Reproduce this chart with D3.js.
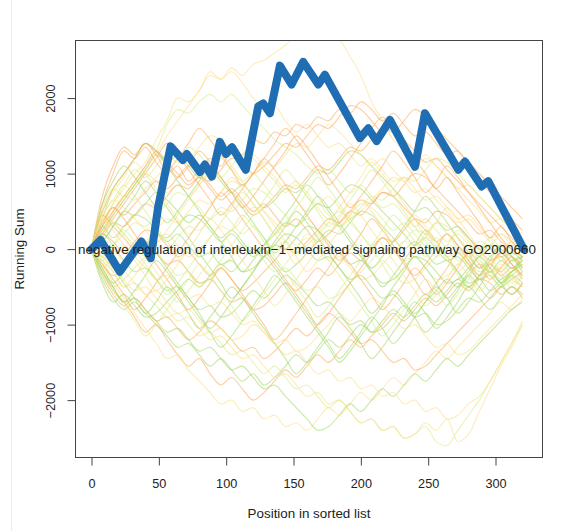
<!DOCTYPE html>
<html>
<head>
<meta charset="utf-8">
<script src="https://cdn.jsdelivr.net/npm/d3@7"></script>
<style>
  body { margin: 0; background: #fff; }
  text { font-family: "Liberation Sans", Arial, Helvetica, sans-serif; fill: #222; }
</style>
</head>
<body>
<script>
// observed running sum of the gene set
const esPositions = [0, 6.7, 21, 37, 44, 49.5, 58.7, 67.8, 70.8, 80.5, 84.2, 89.4, 95.3, 99.8, 104.3, 114.6,
  123.8, 127.5, 132.5, 139.9, 148.6, 157.2, 168.4, 173.3, 199.3, 205.5, 211.7, 221.6, 240.2, 247.6,
  272.4, 277.3, 289.7, 294.6, 321];
const esValues = [0, 120, -300, 100, -120, 560, 1360, 1180, 1260, 1020, 1120, 960, 1420, 1260, 1350, 1050,
  1890, 1930, 1800, 2430, 2180, 2480, 2180, 2310, 1470, 1600, 1430, 1710, 1090, 1800,
  1050, 1160, 830, 900, 0];

// permutation running sums, sampled every 8 positions
const permPositions = [0, 8, 16, 24, 32, 40, 48, 56, 64, 72, 80, 88, 96, 104, 112, 120, 128, 136, 144, 152,
  160, 168, 176, 184, 192, 200, 208, 216, 224, 232, 240, 248, 256, 264, 272, 280, 288, 296, 304, 312, 320];
const permRuns = [
  [0, 300, 600, 800, 1000, 1150, 1450, 1700, 2000, 1950, 2100, 2350, 2250, 2400, 2300, 2450, 2500, 2600, 2700, 2850, 2950, 2850, 2900, 2780, 2550, 2300, 1950, 1700, 1450, 1300, 1150, 1250, 1100, 950, 800, 850, 700, 550, 400, 300, 200],
  [0, 250, 500, 700, 900, 1100, 1300, 1650, 1850, 1800, 1950, 2050, 1950, 2050, 1900, 1750, 1600, 1450, 1350, 1250, 1100, 1000, 1050, 900, 750, 850, 700, 550, 600, 450, 300, 400, 250, 100, 200, 50, -100, 0, -150, -50, -100],
  [0, 200, 450, 650, 850, 1050, 1250, 1500, 1700, 1900, 2100, 2300, 2250, 2350, 2200, 2000, 1850, 1900, 1700, 1550, 1650, 1500, 1350, 1400, 1250, 1100, 1200, 1050, 900, 950, 800, 650, 700, 550, 400, 450, 300, 150, 200, 50, 0],
  [0, 600, 1000, 1300, 1200, 1350, 1150, 1000, 1100, 900, 1050, 1200, 1100, 1300, 1250, 1450, 1400, 1550, 1500, 1650, 1600, 1750, 1700, 1850, 1800, 1950, 1850, 1700, 1800, 1650, 1500, 1550, 1400, 1250, 1300, 1100, 900, 750, 600, 400, 250],
  [0, 700, 1100, 1350, 1250, 1400, 1300, 1150, 1000, 850, 950, 800, 650, 750, 600, 450, 550, 700, 850, 800, 950, 1100, 1050, 1200, 1350, 1300, 1450, 1600, 1550, 1700, 1850, 1750, 1600, 1450, 1300, 1150, 1000, 850, 700, 550, 400],
  [0, 400, 800, 1000, 1200, 1400, 1300, 1150, 1250, 1100, 950, 1050, 900, 750, 850, 700, 550, 650, 800, 750, 900, 1050, 1000, 1150, 1300, 1250, 1100, 950, 800, 650, 500, 550, 400, 250, 300, 150, 0, 50, -100, -50, -150],
  [0, 350, 600, 850, 1050, 950, 1100, 1250, 1150, 1350, 1250, 1100, 1200, 1050, 900, 1000, 850, 700, 800, 650, 500, 600, 450, 300, 400, 550, 700, 650, 800, 950, 900, 1050, 1200, 1150, 1000, 850, 700, 550, 400, 250, 100],
  [0, 200, 500, 700, 650, 800, 950, 1100, 1250, 1200, 1350, 1500, 1450, 1300, 1150, 1250, 1100, 950, 800, 900, 750, 600, 700, 550, 400, 500, 650, 800, 950, 900, 1050, 1200, 1100, 950, 800, 650, 500, 350, 400, 250, 100],
  [0, 100, 300, 500, 450, 600, 750, 650, 500, 350, 450, 300, 150, 250, 100, -50, 50, 200, 350, 300, 450, 600, 550, 700, 850, 800, 650, 500, 350, 200, 50, 150, 0, -150, -100, -250, -400, -350, -500, -400, -300],
  [0, 300, 550, 450, 600, 750, 900, 800, 950, 1100, 1000, 850, 700, 800, 650, 500, 600, 450, 300, 400, 250, 100, 200, 350, 500, 450, 600, 750, 700, 850, 1000, 950, 800, 650, 500, 350, 200, 250, 100, 0, -100],
  [0, -100, 50, 200, 350, 300, 450, 600, 750, 700, 850, 1000, 950, 1100, 1250, 1200, 1050, 900, 750, 850, 700, 550, 400, 500, 350, 200, 50, 150, 0, -150, -100, -250, -400, -350, -200, -50, 100, 50, 200, 100, 0],
  [0, 150, 0, -150, -50, 100, 250, 400, 350, 500, 650, 600, 750, 900, 850, 1000, 1150, 1100, 1250, 1400, 1350, 1500, 1650, 1550, 1400, 1250, 1100, 1200, 1050, 900, 750, 800, 650, 500, 350, 400, 250, 100, 0, -100, -200],
  [0, -200, -350, -250, -100, 50, 200, 150, 300, 450, 400, 250, 100, 200, 50, -100, 0, -150, -300, -200, -50, 100, 250, 200, 350, 500, 450, 300, 150, 0, 100, -50, -200, -150, -300, -450, -400, -550, -450, -300, -200],
  [0, 200, 100, -50, 100, 250, 200, 50, -100, -50, -200, -350, -250, -400, -550, -450, -300, -150, 0, -50, 100, 250, 400, 350, 500, 650, 600, 750, 700, 550, 400, 250, 100, 200, 50, -100, -250, -200, -350, -250, -400],
  [0, -300, -500, -400, -250, -100, 50, 0, 150, 300, 250, 400, 550, 500, 650, 800, 750, 600, 450, 300, 400, 250, 100, -50, 50, -100, -250, -150, -300, -450, -400, -250, -100, 50, 0, -150, -300, -250, -400, -300, -200],
  [0, 400, 650, 550, 400, 250, 100, 200, 50, -100, 0, 150, 300, 250, 400, 550, 500, 350, 200, 50, 150, 0, -150, -100, -250, -400, -350, -200, -50, 100, 50, 200, 350, 300, 150, 0, -150, -300, -250, -400, -500],
  [0, -400, -650, -800, -700, -850, -1000, -1150, -1300, -1250, -1400, -1550, -1450, -1600, -1750, -1650, -1800, -1700, -1550, -1400, -1500, -1350, -1200, -1300, -1150, -1000, -1100, -950, -800, -900, -750, -600, -700, -550, -400, -500, -350, -200, -300, -150, -100],
  [0, -300, -550, -700, -900, -1100, -1000, -1200, -1400, -1550, -1450, -1650, -1800, -1700, -1850, -2000, -1900, -1750, -1600, -1700, -1550, -1400, -1500, -1350, -1200, -1300, -1150, -1000, -850, -950, -800, -650, -750, -600, -450, -550, -400, -450, -600, -500, -650],
  [0, -200, -450, -650, -850, -1050, -1250, -1450, -1400, -1600, -1750, -1900, -2050, -2000, -2150, -2100, -2250, -2200, -2350, -2300, -2400, -2250, -2100, -2200, -2050, -1900, -2000, -1850, -1700, -1800, -1650, -1500, -1350, -1450, -1300, -1150, -1000, -850, -700, -800, -650],
  [0, -150, -300, -500, -450, -600, -750, -900, -850, -1000, -1150, -1100, -1250, -1400, -1350, -1500, -1650, -1550, -1700, -1850, -1800, -1950, -2100, -2000, -2150, -2300, -2250, -2400, -2350, -2500, -2450, -2350, -2550, -2600, -2400, -2200, -2000, -1750, -1500, -1250, -1000],
  [0, -250, -500, -700, -650, -800, -950, -1100, -1050, -1200, -1350, -1300, -1450, -1600, -1550, -1700, -1850, -1800, -1950, -2100, -2250, -2400, -2350, -2200, -2050, -2150, -2000, -1850, -1950, -1800, -1650, -1750, -1600, -1450, -1550, -1400, -1250, -1100, -950, -800, -700],
  [0, -100, -250, -400, -550, -500, -650, -800, -950, -900, -1050, -1200, -1150, -1300, -1450, -1400, -1550, -1700, -1650, -1800, -1950, -1900, -2050, -2000, -2150, -2300, -2250, -2400, -2350, -2500, -2450, -2300, -2400, -2250, -2550, -2450, -2150, -1850, -1550, -1300, -1000],
  [0, -350, -600, -750, -650, -800, -950, -900, -1050, -1200, -1100, -950, -1050, -1200, -1350, -1300, -1450, -1350, -1200, -1050, -1150, -1000, -850, -950, -1100, -1250, -1200, -1350, -1500, -1450, -1600, -1550, -1400, -1250, -1100, -950, -800, -650, -500, -600, -450],
  [0, 200, 50, -150, -300, -250, -400, -550, -500, -650, -800, -750, -900, -850, -700, -550, -650, -500, -350, -450, -600, -750, -700, -850, -1000, -950, -1100, -1050, -900, -750, -850, -700, -550, -400, -500, -350, -200, -300, -150, -250, -100],
  [0, 500, 350, 200, 50, -100, -50, -200, -350, -300, -450, -400, -250, -100, 50, 0, -150, -300, -250, -400, -550, -500, -650, -600, -450, -300, -150, 0, -50, 100, 250, 200, 50, -100, -50, -200, -350, -300, -450, -350, -250],
  [0, -250, -100, 50, -100, -250, -400, -350, -500, -650, -600, -750, -700, -850, -1000, -950, -1100, -1250, -1200, -1350, -1300, -1150, -1000, -850, -950, -800, -650, -750, -900, -1050, -1000, -1150, -1300, -1250, -1400, -1350, -1200, -1050, -900, -750, -600],
  [0, 450, 300, 150, 0, 100, -50, -200, -150, -300, -450, -400, -550, -700, -650, -800, -750, -600, -450, -550, -400, -250, -350, -200, -50, -150, 0, 150, 100, 250, 400, 350, 500, 450, 300, 150, 0, -150, -100, -250, -150],
  [0, -450, -700, -600, -750, -900, -850, -700, -550, -400, -500, -350, -200, -300, -150, 0, -100, 50, 200, 150, 0, -150, -100, -250, -400, -350, -500, -650, -600, -750, -900, -850, -1000, -950, -800, -650, -700, -550, -400, -300, -200],
  [0, 550, 800, 700, 850, 1000, 900, 750, 850, 700, 550, 400, 500, 350, 200, 300, 150, 0, 100, -50, 50, 200, 350, 300, 450, 600, 550, 400, 250, 350, 200, 50, 150, 0, -150, -100, -250, -150, -50, 50, 0],
  [0, -150, -350, -300, -450, -600, -550, -700, -850, -800, -950, -1100, -1050, -1200, -1150, -1000, -1100, -1250, -1400, -1350, -1500, -1650, -1600, -1750, -1700, -1850, -1800, -1950, -1900, -2050, -2000, -2150, -2100, -2250, -2200, -2050, -1950, -1750, -1500, -1250, -950],
  [0, 150, 350, 300, 450, 600, 550, 700, 850, 800, 950, 900, 1050, 1200, 1150, 1000, 1100, 1250, 1400, 1350, 1500, 1650, 1600, 1750, 1900, 1850, 1700, 1550, 1600, 1450, 1300, 1150, 1200, 1050, 900, 750, 600, 450, 300, 150, 0],
  [0, 300, 150, 300, 450, 400, 250, 100, 200, 50, -100, -50, -200, -150, -300, -250, -100, 50, 0, 150, 300, 250, 100, -50, -200, -150, -300, -450, -400, -250, -100, -150, -300, -450, -400, -250, -100, 50, 0, -150, -100],
  [0, 250, 450, 650, 850, 1050, 1250, 1100, 900, 700, 500, 300, 100, -100, -300, -150, 50, 250, 450, 650, 850, 700, 500, 300, 100, -100, -300, -500, -350, -150, 50, 250, 100, -100, -300, -500, -350, -150, 50, -100, -300],
  [0, -200, -400, -600, -800, -650, -450, -250, -50, 150, 350, 550, 750, 600, 400, 200, 0, -200, -400, -600, -800, -1000, -850, -650, -450, -250, -50, 150, 0, -200, -400, -600, -450, -250, -50, -200, -400, -250, -50, -200, -350],
  [0, 450, 650, 850, 700, 500, 300, 100, -100, -300, -500, -350, -150, 50, 250, 450, 650, 850, 1050, 900, 700, 500, 300, 450, 650, 850, 1050, 900, 700, 500, 300, 100, -100, 50, 250, 100, -100, -300, -150, -350, -500],
  [0, 100, 300, 500, 700, 900, 750, 550, 350, 150, -50, -250, -450, -650, -500, -300, -100, 100, 300, 500, 350, 150, -50, -250, -450, -650, -850, -700, -500, -300, -100, -250, -450, -650, -500, -300, -100, -250, -450, -300, -150],
  [0, -100, -300, -500, -350, -150, 50, 250, 450, 650, 850, 1050, 1250, 1100, 900, 700, 500, 300, 100, -100, -300, -150, 50, 250, 450, 650, 500, 300, 100, 250, 450, 300, 100, -100, -300, -150, 50, -100, -300, -450, -300],
  [0, 350, 550, 400, 200, 0, -200, -400, -600, -800, -650, -450, -250, -400, -600, -800, -1000, -1200, -1050, -850, -650, -450, -250, -50, -200, -400, -600, -800, -650, -450, -250, -400, -600, -450, -250, -50, -200, -400, -250, -100, -250],
  [0, 600, 900, 1100, 950, 750, 550, 350, 500, 700, 900, 1100, 950, 750, 550, 350, 150, -50, 100, 300, 500, 700, 550, 350, 150, -50, -250, -100, 100, 300, 500, 700, 550, 350, 150, -50, -250, -100, 50, -100, -250],
  [0, -350, -550, -750, -950, -1150, -1000, -800, -600, -400, -200, -350, -550, -750, -950, -800, -600, -400, -200, 0, 200, 50, -150, -350, -550, -750, -950, -1150, -1000, -800, -600, -400, -550, -750, -600, -400, -200, -350, -500, -350, -200],
  [0, 200, 400, 600, 800, 1000, 1200, 1400, 1250, 1050, 850, 650, 450, 600, 800, 1000, 1200, 1050, 850, 650, 450, 250, 50, -150, 0, 200, 400, 250, 50, -150, -350, -200, 0, 200, 50, -150, -350, -200, -50, -200, -350],
  [0, -250, -450, -300, -100, 100, -50, -250, -450, -650, -850, -1050, -900, -700, -500, -300, -100, -250, -450, -650, -850, -1050, -1250, -1450, -1300, -1100, -900, -1050, -1250, -1100, -900, -700, -500, -650, -850, -700, -500, -300, -450, -600, -450],
  [0, 500, 750, 950, 1150, 1000, 800, 600, 400, 200, 350, 550, 750, 950, 800, 600, 400, 200, 0, -200, -50, 150, 350, 550, 750, 950, 1150, 1000, 800, 600, 400, 200, 350, 550, 400, 200, 0, -200, -50, 100, -50],
  [0, -150, 50, 250, 100, -100, -300, -500, -700, -550, -350, -150, 50, 250, 450, 300, 100, -100, -300, -500, -700, -900, -750, -550, -350, -150, 50, 250, 450, 300, 100, -100, 50, -150, -350, -550, -400, -200, -350, -500, -350],
  [0, 300, 500, 700, 900, 1100, 1300, 1150, 950, 1100, 1300, 1150, 950, 750, 550, 700, 900, 1100, 1300, 1500, 1350, 1150, 950, 750, 550, 700, 900, 1100, 1300, 1150, 950, 750, 900, 1100, 950, 750, 550, 350, 150, 0, -100],
  [0, -300, -500, -700, -550, -350, -150, -300, -500, -700, -900, -1100, -1300, -1150, -950, -750, -550, -350, -500, -700, -900, -1100, -1300, -1500, -1350, -1150, -950, -750, -550, -700, -900, -1100, -950, -750, -550, -350, -500, -650, -500, -350, -450],
  [0, 150, 350, 200, 0, -200, -400, -600, -450, -250, -50, 150, 350, 550, 750, 600, 400, 200, 350, 550, 750, 950, 800, 600, 400, 200, 0, -200, -400, -250, -50, 150, 350, 200, 0, -200, -50, 150, 0, -150, -50],
  [0, 400, 250, 50, -150, -350, -550, -400, -200, 0, 200, 400, 250, 50, -150, -350, -550, -750, -600, -400, -200, 0, 200, 400, 600, 450, 250, 50, -150, -350, -550, -750, -600, -400, -200, -350, -550, -400, -200, -350, -500],
  [0, 500, 800, 1000, 1200, 1400, 1250, 1050, 1200, 1400, 1600, 1450, 1250, 1050, 850, 1000, 1200, 1400, 1600, 1450, 1250, 1050, 850, 1000, 1200, 1400, 1600, 1750, 1600, 1400, 1200, 1000, 800, 950, 750, 550, 350, 150, 300, 100, -50],
  [0, -50, -250, -450, -650, -850, -700, -500, -650, -850, -1050, -900, -700, -500, -650, -850, -1050, -1250, -1450, -1650, -1500, -1300, -1100, -900, -1050, -1250, -1450, -1300, -1100, -900, -700, -850, -1050, -900, -700, -500, -650, -800, -650, -500, -600]
];
// colour of each permutation line (index into permPalette)
const permColorIdx = [1, 2, 1, 0, 0, 3, 2, 1, 3, 0, 2, 1, 3, 0, 2, 1, 3, 0, 1, 2, 3, 1, 0, 3, 2, 1, 0, 3, 2, 1, 0, 3,
  3, 0, 2, 3, 1, 0, 3, 2, 0, 3, 1, 2, 0, 3, 2, 1, 0, 3];
const permPalette = ["#fdae61", "#fee08b", "#d9ef8b", "#a6d96a"];

const xTicks = [0, 50, 100, 150, 200, 250, 300];
const yTicks = [-2000, -1000, 0, 1000, 2000];
const setName = "negative regulation of interleukin\u22121\u2212mediated signaling pathway GO2000660";

const width = 568, height = 531;
const box = {left: 75.5, right: 542.5, top: 40.5, bottom: 457.5};

const x = d3.scaleLinear().domain([-11.9, 334.9]).range([box.left, box.right]);
const y = d3.scaleLinear().domain([-2760, 2763]).range([box.bottom, box.top]);

const svg = d3.select("body").append("svg")
  .attr("width", width)
  .attr("height", height);

// faint page edge
svg.append("line")
  .attr("x1", 11.5).attr("x2", 11.5).attr("y1", 0).attr("y2", height)
  .attr("stroke", "#ebebeb");

svg.append("clipPath").attr("id", "plot-clip")
  .append("rect")
  .attr("x", box.left).attr("y", box.top)
  .attr("width", box.right - box.left).attr("height", box.bottom - box.top);

const plot = svg.append("g").attr("clip-path", "url(#plot-clip)");

// permutation lines
const permLine = d3.line()
  .x((d, i) => x(permPositions[i]))
  .y(d => y(d))
  .curve(d3.curveCatmullRom.alpha(0.5));

plot.selectAll(".perm")
  .data(permRuns)
  .enter()
  .append("path")
    .attr("class", "perm")
    .attr("d", permLine)
    .attr("fill", "none")
    .attr("stroke", (d, i) => permPalette[permColorIdx[i]])
    .attr("stroke-opacity", 0.6)
    .attr("stroke-width", 1.1);

// observed running sum
const esLine = d3.line()
  .x((d, i) => x(esPositions[i]))
  .y(d => y(d));

plot.append("path")
  .attr("d", esLine(esValues))
  .attr("fill", "none")
  .attr("stroke", "#1f6eb4")
  .attr("stroke-width", 8)
  .attr("stroke-linejoin", "round")
  .attr("stroke-linecap", "round");

// gene set label
svg.append("text")
  .attr("x", x(160))
  .attr("y", y(0) + 4.6)
  .attr("text-anchor", "middle")
  .style("font-size", "13.4px")
  .text(setName);

// axes
const xAxis = d3.axisBottom(x).tickValues(xTicks).tickSize(8).tickPadding(13).tickFormat(d3.format("d"));
const gx = svg.append("g")
  .attr("transform", `translate(0, ${box.bottom})`)
  .call(xAxis);
gx.select(".domain").attr("d", `M${x(0)},0H${x(300)}`);

const yAxis = d3.axisLeft(y).tickValues(yTicks).tickSize(8).tickFormat(d => d < 0 ? "\u2212" + Math.abs(d) : d);
const gy = svg.append("g")
  .attr("transform", `translate(${box.left}, 0)`)
  .call(yAxis);
gy.select(".domain").attr("d", `M0,${y(-2000)}V${y(2000)}`);
gy.selectAll(".tick text")
  .attr("x", 0).attr("dy", 0)
  .attr("transform", "translate(-20.5,0) rotate(-90)")
  .attr("text-anchor", "middle");

svg.selectAll(".domain, .tick line").attr("stroke", "#444");
svg.selectAll(".tick text")
  .style("font-size", "12.7px")
  .style("font-family", "'Liberation Sans', Arial, sans-serif")
  .attr("fill", "#222");

// plot frame
svg.append("rect")
  .attr("x", box.left).attr("y", box.top)
  .attr("width", box.right - box.left).attr("height", box.bottom - box.top)
  .attr("fill", "none")
  .attr("stroke", "#444");

// axis titles
svg.append("text")
  .attr("x", (box.left + box.right) / 2)
  .attr("y", 517.7)
  .attr("text-anchor", "middle")
  .style("font-size", "13.4px")
  .text("Position in sorted list");

svg.append("text")
  .attr("transform", `translate(23.5, ${(box.top + box.bottom) / 2}) rotate(-90)`)
  .attr("text-anchor", "middle")
  .style("font-size", "13.4px")
  .text("Running Sum");
</script>
</body>
</html>
